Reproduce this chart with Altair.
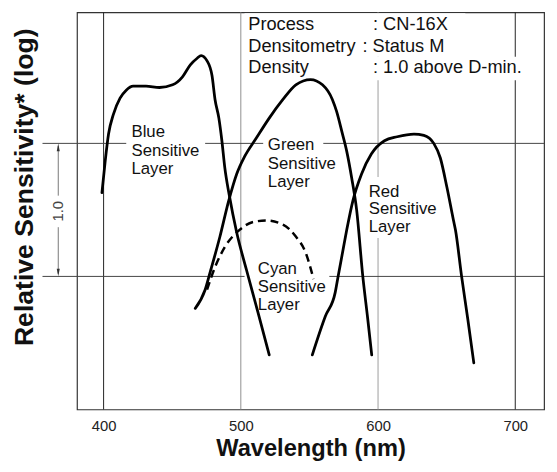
import altair as alt
import pandas as pd

# ---------------- data ----------------
blue_wl = [398.8, 401.2, 403.6, 407.2, 412.0, 416.5, 421.5, 430.9, 440.7, 450.3, 457.5,
           463.2, 468.2, 471.1, 475.4, 479.0, 481.2, 484.0, 486.2, 488.3, 491.6, 497.0,
           504.1, 512.5, 520.7]
blue_val = [0.63, 0.87, 1.07, 1.22, 1.34, 1.40, 1.43, 1.43, 1.42, 1.44, 1.50,
            1.59, 1.64, 1.66, 1.62, 1.51, 1.33, 1.19, 1.02, 0.82, 0.61, 0.33,
            0.05, -0.27, -0.59]

green_wl = [466.8, 474.0, 477.6, 484.8, 491.2, 497.0, 502.7, 511.3, 520.7, 530.7, 540.1,
            550.8, 559.5, 566.7, 569.8, 573.6, 577.2, 580.8, 584.4, 588.9, 592.5, 595.4]
green_val = [-0.24, -0.10, 0.03, 0.30, 0.57, 0.77, 0.90, 1.04, 1.19, 1.33, 1.44,
             1.48, 1.44, 1.33, 1.24, 1.09, 0.94, 0.74, 0.50, 0.00, -0.32, -0.59]

red_wl = [552.1, 561.6, 568.8, 570.9, 574.5, 577.2, 581.7, 588.0, 595.1, 604.7, 614.0,
          626.2, 633.4, 640.6, 645.4, 650.2, 655.0, 656.4, 660.9, 665.4, 669.8]
red_val = [-0.59, -0.30, -0.12, 0.00, 0.20, 0.35, 0.57, 0.77, 0.92, 1.02, 1.05,
           1.07, 1.06, 1.00, 0.89, 0.67, 0.42, 0.35, 0.00, -0.32, -0.65]

cyan_wl = [475.4, 481.2, 488.3, 499.1, 509.2, 518.5, 530.7, 540.1, 547.2, 553.0]
cyan_val = [-0.10, 0.07, 0.22, 0.35, 0.41, 0.42, 0.39, 0.30, 0.18, -0.02]

tick_values = [400, 500, 600, 700]
grid_x_colors = ["#222222", "#8f8f8f", "#9c9c9c", "#222222"]
grid_y = [0.0, 1.0]

label_text = ["Blue", "Sensitive", "Layer",
              "Green", "Sensitive", "Layer",
              "Red", "Sensitive", "Layer",
              "Cyan", "Sensitive", "Layer"]
label_wl = [420.3] * 3 + [519.7] * 3 + [593.2] * 3 + [512.4] * 3
label_val = [1.047, 0.904, 0.770,
             0.948, 0.807, 0.674,
             0.600, 0.467, 0.333,
             0.015, -0.119, -0.256]

info_left = ["Process", "Densitometry", "Density"]
info_right = [": CN-16X", ": Status M", ": 1.0 above D-min."]
info_left_wl = [505.4, 505.4, 505.4]
info_right_wl = [596.3, 588.6, 596.3]
info_val = [1.850, 1.689, 1.530]

span_label = "1.0"

# white boxes behind the texts (where the grid lines are interrupted)
mask_wl = [416.5, 516.3, 590.3, 502.7, 502.7, 502.7, 502.7]
mask_wl2 = [474.0, 560.1, 645.6, 564.5, 663.6, 662.1, 718.1]
mask_val = [1.163, 1.067, 0.748, 0.141, 1.978, 1.815, 1.652]
mask_val2 = [0.733, 0.644, 0.289, -0.289, 1.815, 1.652, 1.474]

# the "1.0" span arrow, split around its label
shaft_val = [0.02, 0.607]
shaft_val2 = [0.37, 0.98]

# ---------------- layout ----------------
W, H = 474, 403
XDOM = [380.6, 721.0]
YDOM = [-1.0, 1.985]
FONT = "Liberation Sans"

x_scale = alt.Scale(domain=XDOM, nice=False, zero=False)
y_scale = alt.Scale(domain=YDOM, nice=False, zero=False)

ax_x = alt.Axis(values=tick_values, title="Wavelength (nm)", grid=False, ticks=False,
                domain=False, format="d", labelFont=FONT, labelFontSize=15,
                labelColor="#222222", labelPadding=9, titleFont=FONT, titleFontSize=24,
                titleFontWeight="bold", titleColor="#111111", titleY=47,
                titleBaseline="alphabetic")
ax_y = alt.Axis(title="Relative Sensitivity* (log)", labels=False, ticks=False,
                domain=False, grid=False, titleFont=FONT, titleFontSize=27,
                titleFontWeight="bold", titleColor="#111111", titleAngle=270,
                titleX=-45, titleY=177, titleAlign="center",
                titleBaseline="alphabetic")


def X(field="wl"):
    return alt.X(f"{field}:Q", scale=x_scale, axis=ax_x)


def Y(field="val"):
    return alt.Y(f"{field}:Q", scale=y_scale, axis=ax_y)


# grid lines
vgrid = alt.Chart(pd.DataFrame({"wl": tick_values, "c": grid_x_colors})).mark_rule(
    strokeWidth=1).encode(x=X(), color=alt.Color("c:N", scale=None))

hgrid = alt.Chart(pd.DataFrame({"val": grid_y})).mark_rule(
    strokeWidth=1, color="#444444").encode(
    y=Y(), x=alt.value(-35), x2=alt.value(W))

masks = alt.Chart(pd.DataFrame({"wl": mask_wl, "wl2": mask_wl2,
                                "val": mask_val, "val2": mask_val2})).mark_rect(
    color="white").encode(x=X(), x2="wl2:Q", y=Y(), y2="val2:Q")

# "1.0" span arrow on the left
arrow_shaft = alt.Chart(pd.DataFrame({"val": shaft_val, "val2": shaft_val2})).mark_rule(
    strokeWidth=1, color="#777777").encode(
    x=alt.value(-19), y=Y(), y2="val2:Q")

up_head = alt.Chart(pd.DataFrame({"val": [1.0]})).mark_point(
    shape="M0,-1L0.4,1L-0.4,1Z", filled=True, size=60, color="#333333",
    opacity=1, yOffset=4).encode(x=alt.value(-19), y=Y())
down_head = alt.Chart(pd.DataFrame({"val": [0.0]})).mark_point(
    shape="M0,1L0.4,-1L-0.4,-1Z", filled=True, size=60, color="#333333",
    opacity=1, yOffset=-4).encode(x=alt.value(-19), y=Y())

span_text = alt.Chart(pd.DataFrame({"val": [0.49], "t": [span_label]})).mark_text(
    font=FONT, fontSize=15, angle=270, align="center", baseline="middle",
    color="#444444").encode(x=alt.value(-19), y=Y(), text="t:N")

# texts
labels_df = pd.DataFrame({"wl": label_wl, "val": label_val, "t": label_text})
info_df = pd.DataFrame({
    "wl": info_left_wl + info_right_wl,
    "val": info_val + info_val,
    "t": info_left + info_right,
})

labels_text = alt.Chart(labels_df).mark_text(
    font=FONT, fontSize=17, align="left", baseline="alphabetic",
    color="#111111").encode(x=X(), y=Y(), text="t:N")
info_text = alt.Chart(info_df).mark_text(
    font=FONT, fontSize=18.5, align="left", baseline="alphabetic",
    color="#111111").encode(x=X(), y=Y(), text="t:N")

# curves
solid_df = pd.concat([
    pd.DataFrame({"wl": blue_wl, "val": blue_val, "s": "Blue"}),
    pd.DataFrame({"wl": green_wl, "val": green_val, "s": "Green"}),
    pd.DataFrame({"wl": red_wl, "val": red_val, "s": "Red"}),
], ignore_index=True)
cyan_df = pd.DataFrame({"wl": cyan_wl, "val": cyan_val, "s": "Cyan"})

solid = alt.Chart(solid_df).mark_line(
    color="#000000", strokeWidth=2.8, interpolate="monotone",
    strokeCap="round").encode(x=X(), y=Y(), detail="s:N", order="wl:Q")
dashed = alt.Chart(cyan_df).mark_line(
    color="#000000", strokeWidth=2.5, interpolate="monotone",
    strokeDash=[8, 5]).encode(x=X(), y=Y(), detail="s:N", order="wl:Q")

chart = alt.layer(
    vgrid, hgrid, masks, arrow_shaft,
    solid, dashed, labels_text, info_text, span_text, up_head, down_head,
).properties(
    width=W, height=H,
    autosize=alt.AutoSizeParams(type="none"),
    padding={"left": 70, "top": 1, "right": 5, "bottom": 55},
).configure_view(stroke="#333333", strokeWidth=1.2)

chart.save("out.html", embed_options={"renderer": "svg", "actions": False})
